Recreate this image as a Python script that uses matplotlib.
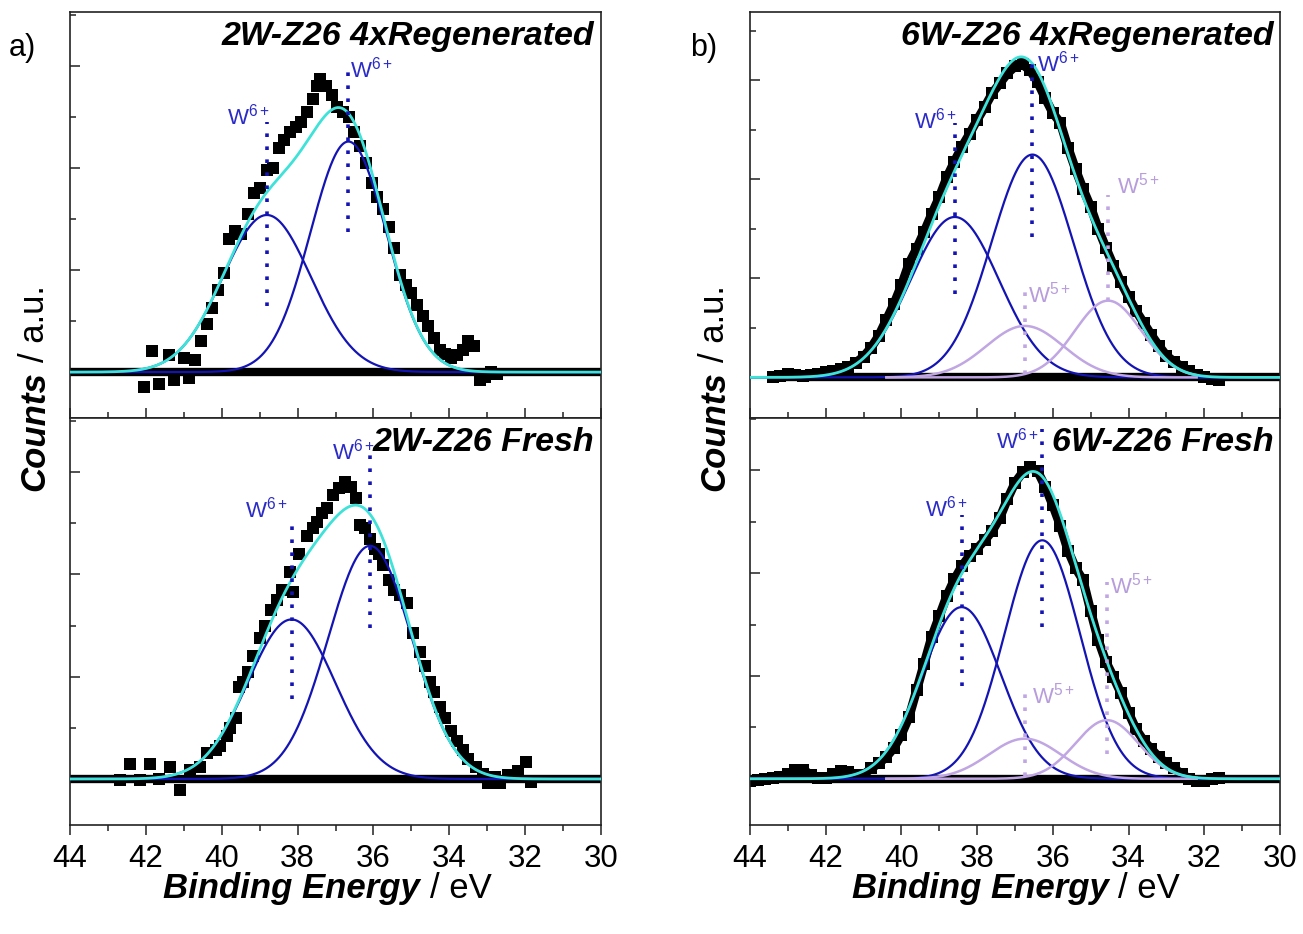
import numpy as np
import matplotlib
matplotlib.use("Agg")
import matplotlib.pyplot as plt
from matplotlib.ticker import MultipleLocator

plt.rcParams['font.family'] = ['Liberation Sans', 'DejaVu Sans']
plt.rcParams['mathtext.fontset'] = 'custom'
plt.rcParams['mathtext.rm'] = 'Liberation Sans'
plt.rcParams['mathtext.it'] = 'Liberation Sans:italic'
plt.rcParams['mathtext.bf'] = 'Liberation Sans:bold'

# ------------------------------------------------------------------ data
titles = ["2W-Z26 4xRegenerated", "2W-Z26 Fresh",
          "6W-Z26 4xRegenerated", "6W-Z26 Fresh"]
panel_letters = ["a)", "b)"]
xticks = [44, 42, 40, 38, 36, 34, 32, 30]

# measured spectra (binding energy / eV, counts a.u.)
a_regen_be = [42.05, 41.85, 41.65, 41.40, 41.25, 41.00, 40.85, 40.70, 40.55, 40.40,
              40.25, 40.10, 39.95, 39.80, 39.65, 39.50, 39.30, 39.15, 39.00, 38.80,
              38.65, 38.50, 38.35, 38.20, 38.05, 37.90, 37.75, 37.60, 37.50, 37.40,
              37.25, 37.10, 36.95, 36.80, 36.65, 36.50, 36.35, 36.20, 36.05, 35.90,
              35.75, 35.60, 35.45, 35.30, 35.15, 35.00, 34.85, 34.70, 34.55, 34.40,
              34.25, 34.10, 33.95, 33.80, 33.65, 33.50, 33.35, 33.20, 33.05, 32.90,
              32.75]
a_regen_counts = [-0.15, 0.21, -0.12, 0.17, -0.08, 0.14, -0.06, 0.12, 0.30, 0.47,
                  0.63, 0.80, 0.97, 1.30, 1.38, 1.35, 1.55, 1.76, 1.80, 1.98,
                  2.00, 2.20, 2.28, 2.35, 2.40, 2.45, 2.55, 2.68, 2.80, 2.87,
                  2.80, 2.72, 2.60, 2.55, 2.50, 2.35, 2.22, 2.05, 1.85, 1.72,
                  1.60, 1.42, 1.22, 0.95, 0.85, 0.78, 0.66, 0.55, 0.45, 0.33,
                  0.22, 0.18, 0.14, 0.17, 0.22, 0.30, 0.26, -0.08, -0.05, 0.00,
                  -0.02]

a_fresh_be = [42.68, 42.42, 42.15, 41.89, 41.65, 41.36, 41.10, 40.84, 40.57, 40.40,
              40.15, 40.05, 39.85, 39.78, 39.62, 39.55, 39.43, 39.30, 39.17, 39.00,
              38.85, 38.70, 38.55, 38.40, 38.20, 38.11, 37.95, 37.76, 37.60, 37.50,
              37.35, 37.23, 37.06, 36.90, 36.75, 36.60, 36.45, 36.36, 36.22, 36.10,
              35.95, 35.85, 35.74, 35.60, 35.47, 35.30, 35.12, 34.95, 34.77, 34.65,
              34.50, 34.40, 34.25, 34.10, 33.95, 33.80, 33.65, 33.50, 33.30, 33.10,
              32.97, 32.80, 32.65, 32.45, 32.20, 31.97, 31.85]
a_fresh_counts = [-0.01, 0.15, -0.01, 0.15, 0.00, 0.12, -0.11, 0.09, 0.12, 0.25,
                  0.28, 0.32, 0.42, 0.50, 0.60, 0.90, 0.95, 1.05, 1.20, 1.38,
                  1.50, 1.65, 1.75, 1.85, 2.02, 1.83, 2.20, 2.38, 2.45, 2.51,
                  2.60, 2.65, 2.78, 2.85, 2.90, 2.86, 2.75, 2.48, 2.45, 2.35,
                  2.25, 2.20, 2.09, 1.95, 1.85, 1.80, 1.72, 1.43, 1.24, 1.10,
                  0.95, 0.85, 0.70, 0.60, 0.47, 0.37, 0.28, 0.20, 0.12, 0.05,
                  -0.04, 0.02, -0.04, 0.04, 0.08, 0.17, -0.03]

b_regen_be = np.round(np.arange(43.4, 31.5, -0.2), 1)
b_regen_counts = [0.00, 0.01, 0.03, 0.02, 0.01, 0.02, 0.03, 0.05, 0.06, 0.08,
                  0.11, 0.15, 0.21, 0.30, 0.42, 0.58, 0.74, 0.93, 1.15, 1.30,
                  1.47, 1.65, 1.82, 2.02, 2.18, 2.33, 2.46, 2.60, 2.73, 2.87,
                  2.97, 3.07, 3.14, 3.16, 3.10, 2.98, 2.82, 2.67, 2.57, 2.32,
                  2.10, 1.90, 1.72, 1.50, 1.31, 1.13, 0.96, 0.81, 0.67, 0.55,
                  0.43, 0.32, 0.22, 0.16, 0.11, 0.06, 0.02, 0.00, -0.02, -0.03]

b_fresh_be = np.round(np.arange(44.0, 31.5, -0.2), 1)
b_fresh_counts = [-0.02, -0.01, 0.00, 0.01, 0.02, 0.05, 0.09, 0.09, 0.04, 0.01,
                  0.01, 0.05, 0.08, 0.07, 0.04, 0.04, 0.10, 0.15, 0.21, 0.30,
                  0.43, 0.60, 0.86, 1.12, 1.38, 1.58, 1.78, 1.94, 2.07, 2.17,
                  2.24, 2.32, 2.41, 2.54, 2.72, 2.88, 2.98, 3.03, 2.99, 2.84,
                  2.66, 2.46, 2.22, 2.05, 1.93, 1.63, 1.35, 1.14, 0.99, 0.83,
                  0.64, 0.48, 0.37, 0.29, 0.21, 0.15, 0.10, 0.05, 0.00, -0.02,
                  -0.02, 0.00, 0.01]

# fitted components: position / eV, height, gaussian width / eV, oxidation state
a_regen_center = [38.81, 36.66]
a_regen_height = [1.54, 2.26]
a_regen_sigma = [1.16, 1.00]
a_regen_state = ["6+", "6+"]

a_fresh_center = [38.16, 36.09]
a_fresh_height = [1.56, 2.28]
a_fresh_sigma = [1.15, 1.10]
a_fresh_state = ["6+", "6+"]

b_regen_center = [38.59, 36.54, 36.74, 34.54]
b_regen_height = [1.62, 2.25, 0.52, 0.775]
b_regen_sigma = [1.17, 1.08, 1.02, 0.88]
b_regen_state = ["6+", "6+", "5+", "5+"]

b_fresh_center = [38.41, 36.28, 36.74, 34.57]
b_fresh_height = [1.67, 2.32, 0.39, 0.57]
b_fresh_sigma = [1.04, 1.00, 0.95, 0.83]
b_fresh_state = ["6+", "6+", "5+", "5+"]

# ------------------------------------------------------------------ styling / annotation placement
C6 = "#1414b4"       # W6+ components
C6_TXT = "#2b2bc8"
C5 = "#c0a6e2"       # W5+ components
C5_TXT = "#b79ddb"
CENV = "#3fe2d8"     # envelope

panels = [
    dict(pos=[70, 12, 601, 418], be=a_regen_be, y=a_regen_counts, c=a_regen_center,
         h=a_regen_height, s=a_regen_sigma, st=a_regen_state, title=titles[0],
         ylim=(-0.45, 3.53), ms=8.0, join=0, base_from=44.0, top=True,
         mark_top=[2.45, 3.00], mark_bot=[0.65, 1.37],
         lab_x=[38.73, 36.61], lab_y=[2.51, 2.97], lab_ha=["right", "left"]),
    dict(pos=[70, 418, 601, 825], be=a_fresh_be, y=a_fresh_counts, c=a_fresh_center,
         h=a_fresh_height, s=a_fresh_sigma, st=a_fresh_state, title=titles[1],
         ylim=(-0.45, 3.53), ms=8.0, join=0, base_from=44.0, top=False,
         mark_top=[2.55, 3.19], mark_bot=[0.78, 1.48],
         lab_x=[38.25, 35.97], lab_y=[2.63, 3.20], lab_ha=["right", "right"]),
    dict(pos=[750, 12, 1280, 418], be=b_regen_be, y=b_regen_counts, c=b_regen_center,
         h=b_regen_height, s=b_regen_sigma, st=b_regen_state, title=titles[2],
         ylim=(-0.41, 3.69), ms=8.0, join=6.5, base_from=43.4, top=True,
         mark_top=[2.57, 3.25, 0.88, 1.84], mark_bot=[0.84, 1.42, 0.03, 0.77],
         lab_x=[38.53, 36.42, 36.66, 34.30], lab_y=[2.59, 3.17, 0.84, 1.94],
         lab_ha=["right", "left", "left", "left"]),
    dict(pos=[750, 418, 1280, 825], be=b_fresh_be, y=b_fresh_counts, c=b_fresh_center,
         h=b_fresh_height, s=b_fresh_sigma, st=b_fresh_state, title=titles[3],
         ylim=(-0.45, 3.51), ms=8.0, join=6.5, base_from=44.0, top=False,
         mark_top=[2.57, 3.40, 0.86, 1.91], mark_bot=[0.90, 1.48, 0.03, 0.24],
         lab_x=[38.24, 36.37, 36.55, 34.49], lab_y=[2.63, 3.29, 0.81, 1.88],
         lab_ha=["right", "right", "left", "left"]),
]

W, H = 1303, 934
fig = plt.figure(figsize=(W / 100, H / 100), dpi=100)


def gauss(x, c, h, s):
    return h * np.exp(-0.5 * ((x - c) / s) ** 2)


for p in panels:
    x0, y0, x1, y1 = p["pos"]
    ax = fig.add_axes([x0 / W, 1 - y1 / H, (x1 - x0) / W, (y1 - y0) / H])
    ax.set_xlim(44, 30)
    ax.set_ylim(*p["ylim"])

    if p["join"] > 0:
        ax.plot(p["be"], p["y"], color="black", lw=p["join"], solid_joinstyle="miter",
                zorder=2)
    ax.plot(p["be"], p["y"], ls="none", marker="s", ms=p["ms"], mfc="black",
            mec="black", mew=0, zorder=2)
    ax.plot([p["base_from"], 30], [0, 0], color="black", lw=6,
            solid_capstyle="butt", zorder=2)

    xx = np.linspace(44, 30, 1400)
    env = np.zeros_like(xx)
    for c, h, s, st in zip(p["c"], p["h"], p["s"], p["st"]):
        yy = gauss(xx, c, h, s)
        env += yy
        if st == "6+":
            ax.plot(xx, yy, color=C6, lw=1.6, zorder=3)
        else:
            m = (xx <= 40.4) & (xx >= 32.2)
            ax.plot(xx[m], yy[m], color=C5, lw=1.8, zorder=3)
    ax.plot(xx, env, color=CENV, lw=2.0, zorder=4)

    for i, (c, st) in enumerate(zip(p["c"], p["st"])):
        col = C6 if st == "6+" else C5
        tcol = C6_TXT if st == "6+" else C5_TXT
        ax.plot([c, c], [p["mark_bot"][i], p["mark_top"][i]], color=col, lw=2.6,
                ls=(0, (1, 2.6)), dash_capstyle="butt", zorder=5)
        ax.text(p["lab_x"][i], p["lab_y"][i], "W$^{%s}$" % st, color=tcol,
                fontsize=16, ha=p["lab_ha"][i], va="center", zorder=6)

    ax.text(0.988, 0.978, p["title"], transform=ax.transAxes, ha="right", va="top",
            fontsize=24.5, fontweight="bold", fontstyle="italic", color="black", zorder=7)

    ax.xaxis.set_major_locator(MultipleLocator(2))
    ax.xaxis.set_minor_locator(MultipleLocator(1))
    ax.yaxis.set_major_locator(MultipleLocator(1))
    ax.yaxis.set_minor_locator(MultipleLocator(0.5))
    ax.set_yticklabels([])
    ax.tick_params(axis="y", which="both", direction="in", left=True, right=False,
                   width=1.1, color="#222222")
    ax.tick_params(axis="y", which="major", length=7)
    ax.tick_params(axis="y", which="minor", length=4)
    if p["top"]:
        ax.tick_params(axis="x", which="both", direction="in", labelbottom=False,
                       width=1.1, color="#222222")
        ax.tick_params(axis="x", which="major", length=7)
        ax.tick_params(axis="x", which="minor", length=4)
    else:
        ax.set_xticks(xticks)
        ax.set_xticklabels([str(t) for t in xticks])
        ax.tick_params(axis="x", which="both", direction="out", width=1.1,
                       color="#222222", labelsize=22.5, pad=7)
        ax.tick_params(axis="x", which="major", length=7)
        ax.tick_params(axis="x", which="minor", length=4)
    for sp in ax.spines.values():
        sp.set_linewidth(1.2)
        sp.set_color("#222222")

# panel letters
fig.text(9 / W, 1 - 33 / H, panel_letters[0], fontsize=22, ha="left", va="top")
fig.text(690 / W, 1 - 33 / H, panel_letters[1], fontsize=22, ha="left", va="top")

# axis titles with bold-italic + regular parts
fig.canvas.draw()
renderer = fig.canvas.get_renderer()


def width_px(txt, **kw):
    t = fig.text(0, 0, txt, **kw)
    w = t.get_window_extent(renderer).width
    t.remove()
    return w


FS = 25
bi = dict(fontsize=FS, fontweight="bold", fontstyle="italic")
rg = dict(fontsize=FS)
gap = 0.27 * FS * 100 / 72

w1 = width_px("Binding Energy", **bi)
w2 = width_px("/ eV", **rg)
for cx in [(70 + 601) / 2 - 8, (750 + 1280) / 2 + 1]:
    start = cx - (w1 + gap + w2) / 2
    fig.text(start / W, 1 - 898 / H, "Binding Energy", ha="left", va="baseline", **bi)
    fig.text((start + w1 + gap) / W, 1 - 898 / H, "/ eV", ha="left", va="baseline", **rg)

w1 = width_px("Counts", **bi)
w2 = width_px("/ a.u.", **rg)
for bx in [44, 724]:
    cy = 388
    ystart = cy + (w1 + gap + w2) / 2
    fig.text(bx / W, 1 - ystart / H, "Counts", ha="left", va="baseline", rotation=90,
             rotation_mode="anchor", **bi)
    fig.text(bx / W, 1 - (ystart - w1 - gap) / H, "/ a.u.", ha="left", va="baseline",
             rotation=90, rotation_mode="anchor", **rg)

fig.savefig("out.png", dpi=100)
